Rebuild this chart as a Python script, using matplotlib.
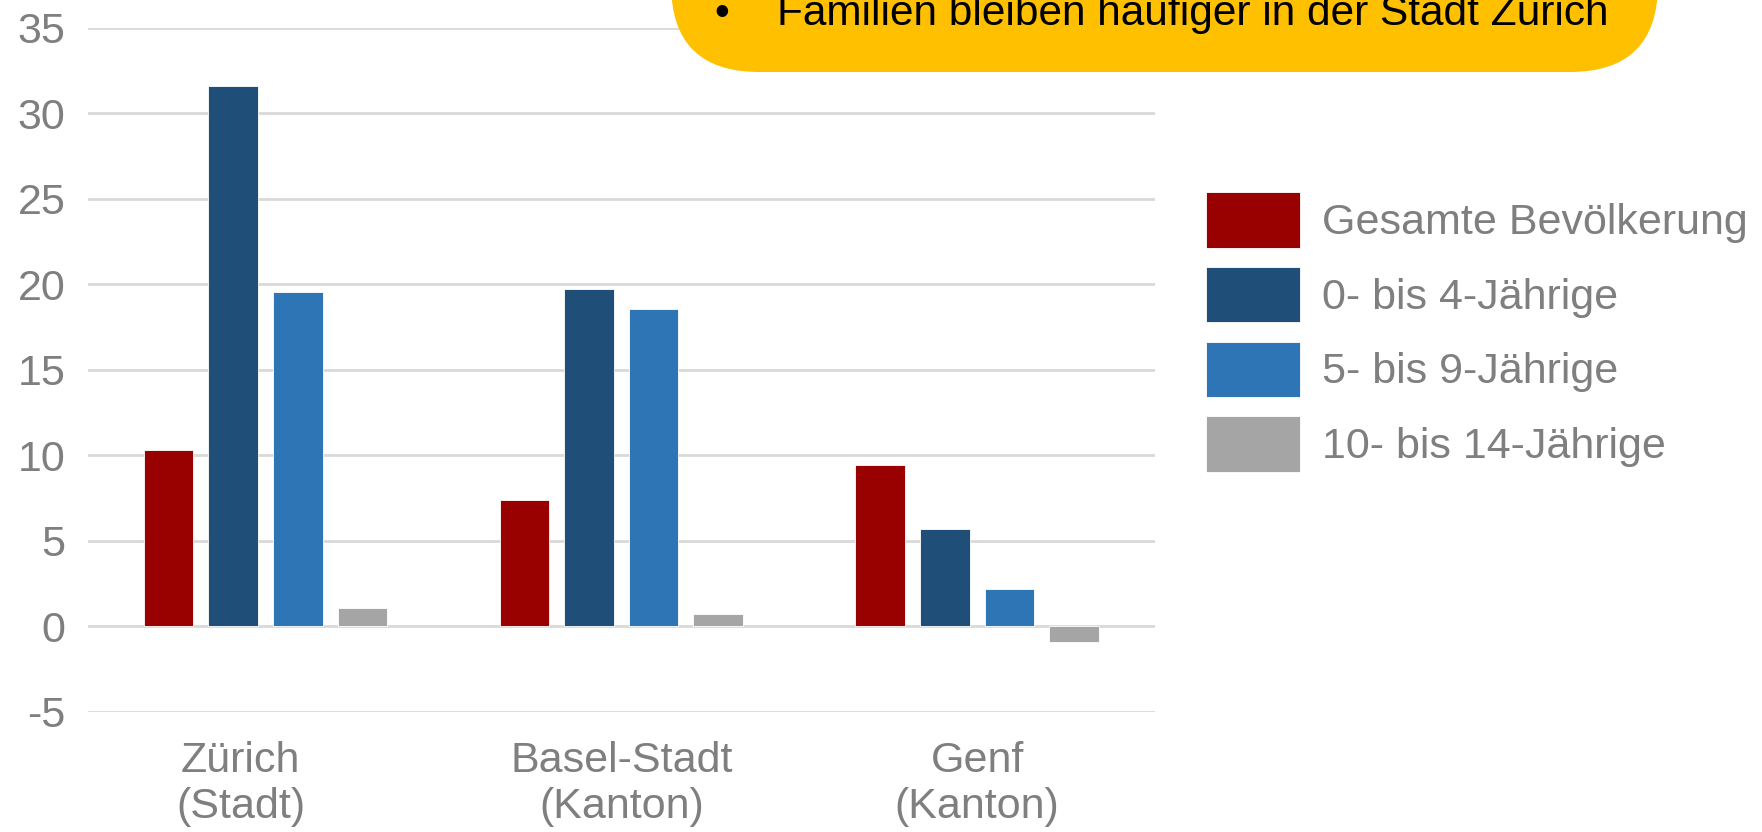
import matplotlib as mpl
import matplotlib.pyplot as plt
import numpy as np
from matplotlib.patches import FancyBboxPatch
from matplotlib.transforms import ScaledTranslation

categories = ["Zürich\n(Stadt)", "Basel-Stadt\n(Kanton)", "Genf\n(Kanton)"]
series_names = ["Gesamte Bevölkerung", "0- bis 4-Jährige", "5- bis 9-Jährige", "10- bis 14-Jährige"]
gesamt = [10.3, 7.4, 9.45]
age_0_4 = [31.6, 19.7, 5.7]
age_5_9 = [19.55, 18.55, 2.2]
age_10_14 = [1.05, 0.7, -0.95]
yticks = [-5, 0, 5, 10, 15, 20, 25, 30, 35]
callout = "Familien bleiben häufiger in der Stadt Zürich"

COLORS = ["#990000", "#1F4E79", "#2E75B6", "#A5A5A5"]
GRAY_TXT = "#7F7F7F"
FS = 31

mpl.rcParams.update({
    "font.family": ["Liberation Sans", "DejaVu Sans"],
    "font.size": FS,
})

fig = plt.figure(figsize=(17.62, 8.32), dpi=100)
ax = fig.add_axes([0.0497, 0.1446, 0.6058, 0.8221])

x = np.arange(len(categories))
w = 0.139
step = 0.1816
values = [gesamt, age_0_4, age_5_9, age_10_14]
handles = []
for i, (vals, col, name) in enumerate(zip(values, COLORS, series_names)):
    b = ax.bar(x + (i - 1.5) * step, vals, w, color=col, edgecolor="white",
               linewidth=0.6, label=name, zorder=3)
    handles.append(b)

ax.set_xlim(-0.5, 2.5)
ax.set_ylim(-5, 35)
ax.set_yticks(yticks)
ax.set_yticklabels([str(t) for t in yticks])
ax.set_xticks(x)
ax.set_xticklabels(categories)
ax.grid(axis="y", color="#D9D9D9", lw=2.0, zorder=0)
ax.set_axisbelow(True)
for s in ax.spines.values():
    s.set_visible(False)
ax.tick_params(axis="y", length=0, pad=16, colors=GRAY_TXT, labelsize=FS)
ax.tick_params(axis="x", length=0, pad=21, colors=GRAY_TXT, labelsize=FS)
# first category label sits a bit left of its group in the original
lab0 = ax.get_xticklabels()[0]
lab0.set_transform(lab0.get_transform() + ScaledTranslation(-0.25, 0, fig.dpi_scale_trans))

fig.legend(handles=handles, labels=series_names, loc="upper left",
           bbox_to_anchor=(0.6845, 0.769), frameon=False, borderpad=0,
           borderaxespad=0, handlelength=2.19, handleheight=1.6,
           labelspacing=0.45, handletextpad=0.5, fontsize=FS,
           labelcolor=GRAY_TXT)

# yellow callout box, cut off at the top of the picture
box = FancyBboxPatch((671 / 1762, (832 - 72) / 832), (1658 - 671) / 1762, 0.3,
                     boxstyle="round,pad=0,rounding_size=0.05",
                     transform=fig.transFigure, fc="#FFC000", ec="none",
                     mutation_aspect=1762 / 832, zorder=5)
fig.add_artist(box)
fig.text(714 / 1762, (832 - 25) / 832, "•", fontsize=30.5, color="black",
         va="baseline", ha="left", zorder=6)
fig.text(777 / 1762, (832 - 25) / 832, callout, fontsize=30.5, color="black",
         va="baseline", ha="left", zorder=6)

fig.savefig("out.png", dpi=100, facecolor="white")
